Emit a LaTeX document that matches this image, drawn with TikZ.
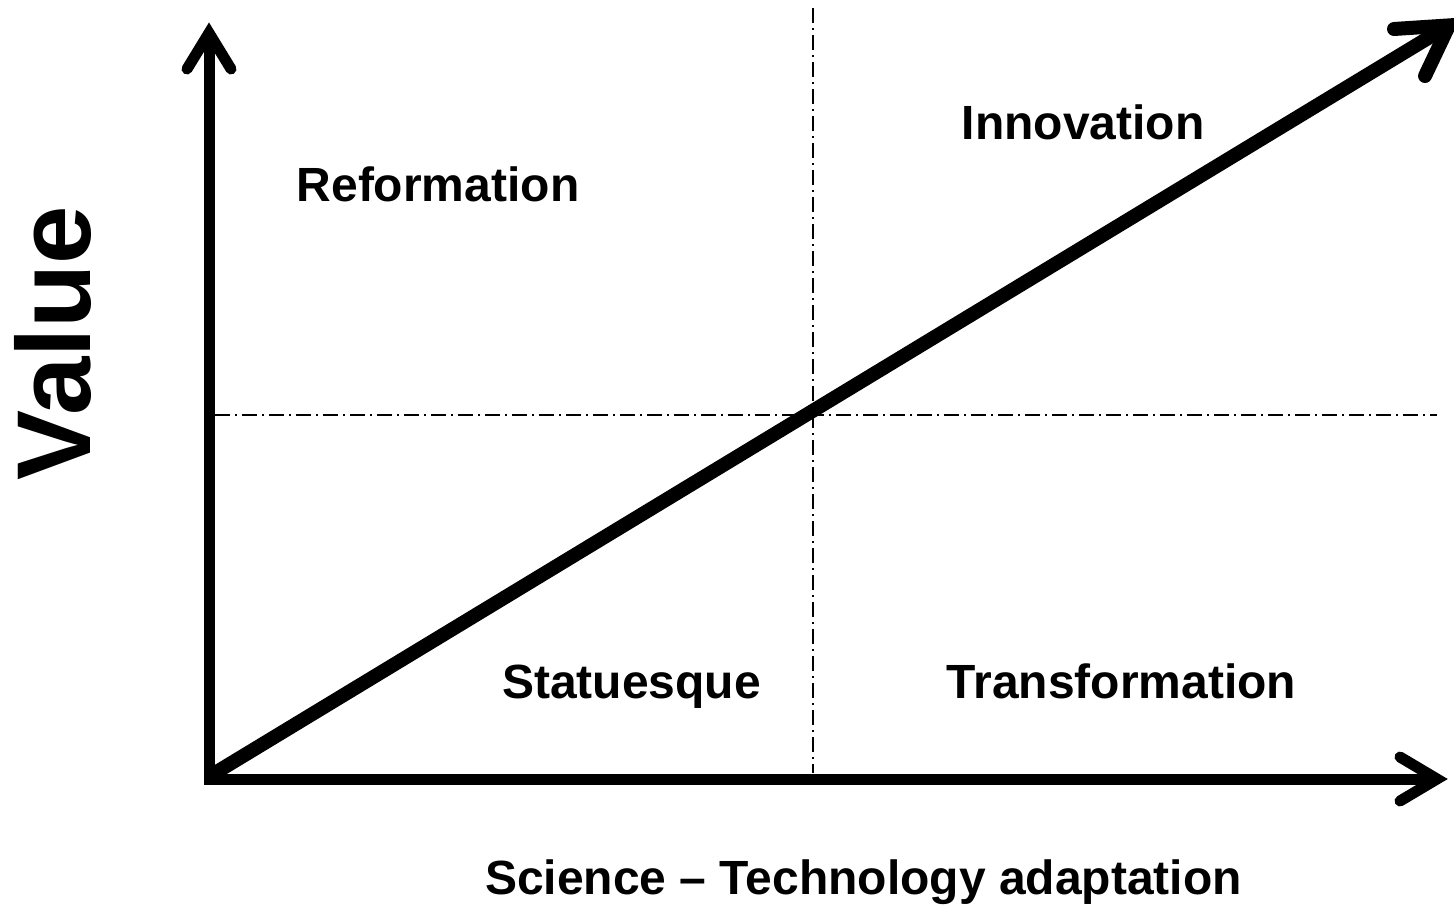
\documentclass[tikz,border=0pt]{standalone}
\usepackage{fontspec}
\setmainfont{Liberation Sans}
\begin{document}
\begin{tikzpicture}[x=1pt,y=-1pt,
  axis/.style={line width=11pt, line cap=butt},
  axistip/.style={line width=11pt, line cap=round, line join=miter, miter limit=10},
  trend/.style={line width=14pt, line cap=butt},
  trendtip/.style={line width=14pt, line cap=round, line join=miter, miter limit=10},
  guide/.style={line width=1.3pt, dash pattern=on 15pt off 5pt on 2pt off 5pt},
  quadrant/.style={font=\bfseries\fontsize{48}{50}\selectfont, anchor=base, inner sep=0pt}]
\useasboundingbox (0,0) rectangle (1454,905);

% key points of the axes and the trend line
\coordinate (yfoot) at (209,784);
\coordinate (ytip) at (209,33);
\coordinate (yl) at (187,69);
\coordinate (yr) at (231,69);
\coordinate (xfoot) at (204,779);
\coordinate (xtip) at (1437,779);
\coordinate (xu) at (1400,757);
\coordinate (xd) at (1400,801);
\coordinate (origin) at (210,776);
\coordinate (dtip) at (1449,25.4);
\coordinate (du) at (1394,29);
\coordinate (dd) at (1425,76);

% quadrant guides
\coordinate (hl) at (215,415);
\coordinate (hr) at (1437,415);
\coordinate (vt) at (813,8);
\coordinate (vb) at (813,773);
\draw[guide] (hl) -- (hr);
\draw[guide] (vt) -- (vb);

% axes
\draw[axis] (yfoot) -- (ytip);
\draw[axistip] (yl) -- (ytip) -- (yr);
\draw[axis] (xfoot) -- (xtip);
\draw[axistip] (xu) -- (xtip) -- (xd);

% diagonal trend
\draw[trend] (origin) -- (dtip);
\draw[trendtip] (du) -- (dtip) -- (dd);

% labels
\node[quadrant] (ref) at (438,201) {Reformation};
\node[quadrant] (inn) at (1083,139) {Innovation};
\node[quadrant] (sta) at (631.5,698) {Statuesque};
\node[quadrant] (tra) at (1121.5,698) {Transformation};
\node[quadrant] (xlab) at (863.5,894) {Science – Technology adaptation};
\node[quadrant, font=\bfseries\fontsize{105}{110}\selectfont, rotate=90] (ylab) at (90,343) {Value};
\end{tikzpicture}
\end{document}
